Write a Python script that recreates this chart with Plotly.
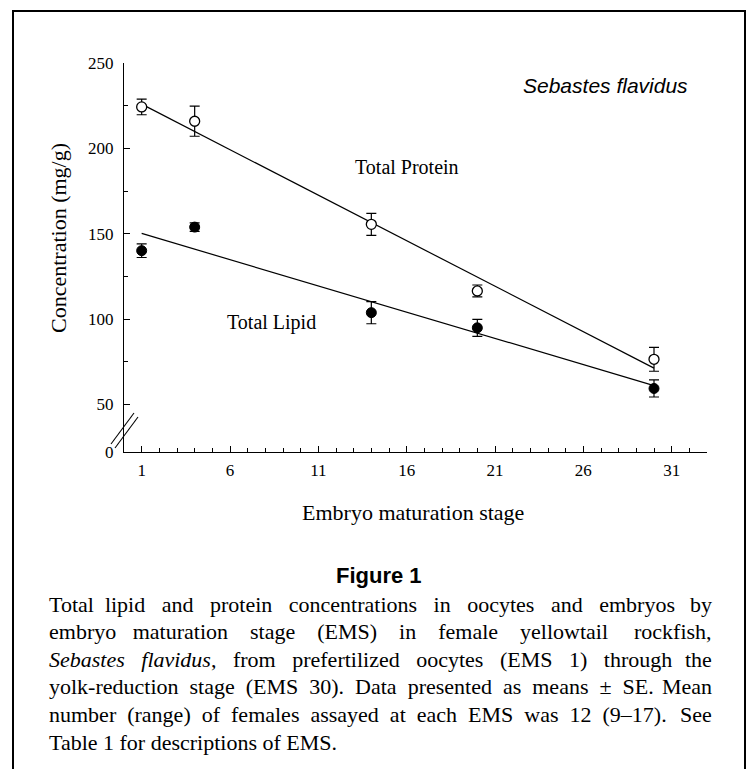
import plotly.graph_objects as go

# ---- data ----
ems = [1, 4, 14, 20, 30]
protein_mean = [224.3, 215.9, 155.5, 116.5, 76.5]
protein_se = [4.6, 8.8, 6.4, 3.5, 7.0]
lipid_mean = [140.1, 153.9, 103.8, 94.9, 59.4]
lipid_se = [4.0, 2.5, 6.5, 5.0, 5.0]
fit_ems = [1, 30]
protein_fit = [225.9, 71.3]
lipid_fit = [150.2, 61.1]

y_major_vals = [22.2, 50, 100, 150, 200, 250]
y_major_text = ["0", "50", "100", "150", "200", "250"]
y_minor_vals = [75, 125, 175, 225]

caption_lines = [
    "Total lipid and protein concentrations in oocytes and embryos by",
    "embryo maturation stage (EMS) in female yellowtail rockfish,",
    "<i>Sebastes flavidus</i>, from prefertilized oocytes (EMS 1) through the",
    "yolk-reduction stage (EMS 30). Data presented as means \u00b1 SE. Mean",
    "number (range) of females assayed at each EMS was 12 (9\u201317). See",
    "Table 1 for descriptions of EMS.",
]
# extra spaces used to justify each line (last line is left as is)
caption_extra = [17, 20, 16, 10, 11, 0]

W, H = 747, 769
ML, MR, MT, MB = 124, 40, 63, 317
PW, PH = W - ML - MR, H - MT - MB


def px(x):
    return (x - ML) / PW


def py(y):
    return (H - MB - y) / PH


SERIF = "Liberation Serif, Times New Roman, serif"
SANS = "Liberation Sans, Arial, sans-serif"
CAP = "Liberation Serif, Times New Roman, serif"

fig = go.Figure()

fig.add_trace(go.Scatter(x=fit_ems, y=protein_fit, mode="lines",
                         line=dict(color="black", width=1.2), showlegend=False))
fig.add_trace(go.Scatter(x=fit_ems, y=lipid_fit, mode="lines",
                         line=dict(color="black", width=1.2), showlegend=False))
fig.add_trace(go.Scatter(
    x=ems, y=protein_mean, mode="markers",
    marker=dict(symbol="circle", size=10, color="white",
                line=dict(color="black", width=1.3)),
    error_y=dict(type="data", array=protein_se, visible=True,
                 color="black", thickness=1.2, width=5),
    showlegend=False))
fig.add_trace(go.Scatter(
    x=ems, y=lipid_mean, mode="markers",
    marker=dict(symbol="circle", size=10, color="black",
                line=dict(color="black", width=1)),
    error_y=dict(type="data", array=lipid_se, visible=True,
                 color="black", thickness=1.2, width=5),
    showlegend=False))

fig.update_xaxes(
    range=[0, 33], showline=True, linecolor="black", linewidth=1.2,
    showgrid=False, zeroline=False,
    tickmode="linear", tick0=1, dtick=5,
    ticks="inside", ticklen=6, tickwidth=1.2, tickcolor="black",
    ticklabelstandoff=2,
    tickfont=dict(family=SERIF, size=17, color="black"),
    minor=dict(tickmode="linear", tick0=0, dtick=1, ticks="inside",
               ticklen=3.5, tickwidth=1, tickcolor="black"),
)
fig.update_yaxes(
    range=[22.2, 250], showline=True, linecolor="black", linewidth=1.2,
    showgrid=False, zeroline=False,
    tickmode="array", tickvals=y_major_vals, ticktext=y_major_text,
    ticks="inside", ticklen=6, tickwidth=1.2, tickcolor="black",
    ticklabelstandoff=6,
    tickfont=dict(family=SERIF, size=17, color="black"),
    minor=dict(tickmode="array", tickvals=y_minor_vals, ticks="inside",
               ticklen=4, tickwidth=1, tickcolor="black"),
)

ann = []


def add_text(text, x, y, size, family, xanchor="center", angle=0, **kw):
    ann.append(dict(text=text, x=px(x), y=py(y), xref="paper", yref="paper",
                    xanchor=xanchor, yanchor="middle", showarrow=False,
                    textangle=angle,
                    font=dict(family=family, size=size, color="black"), **kw))


add_text("Total Protein", 407, 167, 20, SERIF)
add_text("Total Lipid", 271, 322, 20, SERIF)
add_text("<i>Sebastes flavidus</i>", 605, 85, 21, SANS)
add_text("Concentration (mg/g)", 58, 238, 22, SERIF, angle=-90)
add_text("Embryo maturation stage", 413, 512, 22, SERIF)
add_text("<b>Figure 1</b>", 379, 575, 22, SANS)

NB = "\u00a0"
CAP_SIZE = 22
line_y0, line_dy = 604, 27.6
for i, (t, extra) in enumerate(zip(caption_lines, caption_extra)):
    yy = line_y0 + i * line_dy
    words = t.split(" ")
    if extra == 0:
        add_text(NB.join(words), 47, yy, CAP_SIZE, CAP, xanchor="left")
        continue
    gaps = len(words) - 1
    parts = [words[0]]
    for g in range(gaps - 1):
        n = (g + 1) * extra // gaps - g * extra // gaps
        parts.append(NB * (1 + n) + words[g + 1])
    add_text("".join(parts), 47, yy, CAP_SIZE, CAP, xanchor="left")
    add_text(words[-1], 714, yy, CAP_SIZE, CAP, xanchor="right")

shapes = []
# outer frame
shapes.append(dict(type="path",
                   path=f"M {px(13)} {py(790)} L {px(13)} {py(11)} L {px(745)} {py(11)} L {px(745)} {py(790)}",
                   xref="paper", yref="paper", line=dict(color="black", width=2)))
# axis break marks
for (x0, y0, x1, y1) in [(111, 444, 134, 413), (115, 448, 138, 417)]:
    shapes.append(dict(type="line", x0=px(x0), y0=py(y0), x1=px(x1), y1=py(y1),
                       xref="paper", yref="paper",
                       line=dict(color="black", width=1.1)))

fig.update_layout(
    width=W, height=H, autosize=False,
    margin=dict(l=ML, r=MR, t=MT, b=MB),
    paper_bgcolor="white", plot_bgcolor="white",
    annotations=ann, shapes=shapes, showlegend=False,
)

fig.write_html("out.html", config={"displayModeBar": False},
               post_script="document.body.style.margin='0';document.body.style.overflow='hidden';")
